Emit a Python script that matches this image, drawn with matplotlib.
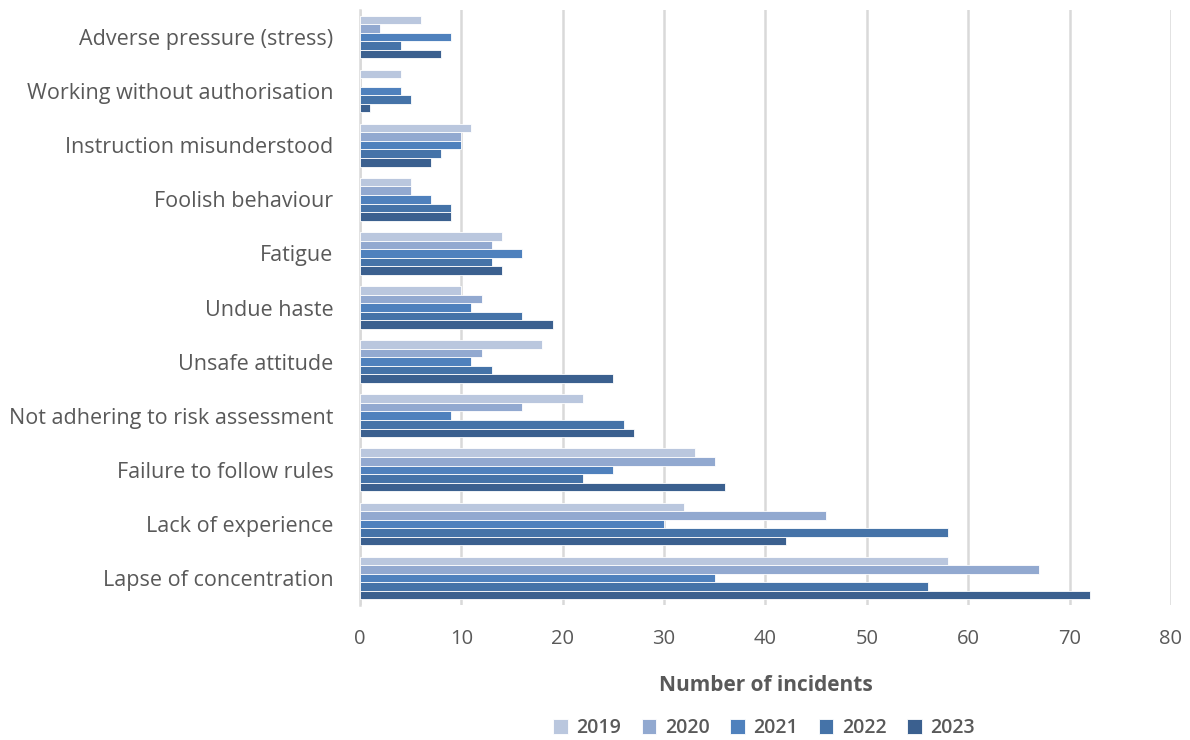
import numpy as np
import matplotlib.pyplot as plt

plt.rcParams['font.family'] = ['Open Sans', 'DejaVu Sans']

categories = ["Lapse of concentration", "Lack of experience", "Failure to follow rules",
              "Not adhering to risk assessment", "Unsafe attitude", "Undue haste",
              "Fatigue", "Foolish behaviour", "Instruction misunderstood",
              "Working without authorisation", "Adverse pressure (stress)"]
years = ["2019", "2020", "2021", "2022", "2023"]

v2019 = [58, 32, 33, 22, 18, 10, 14, 5, 11, 4, 6]
v2020 = [67, 46, 35, 16, 12, 12, 13, 5, 10, 0, 2]
v2021 = [35, 30, 25, 9, 11, 11, 16, 7, 10, 4, 9]
v2022 = [56, 58, 22, 26, 13, 16, 13, 9, 8, 5, 4]
v2023 = [72, 42, 36, 27, 25, 19, 14, 9, 7, 1, 8]
series = [v2019, v2020, v2021, v2022, v2023]
colors = ["#BAC7DE", "#92A9D0", "#4F81BD", "#4573A8", "#3B608F"]

text_col = "#595959"

fig = plt.figure(figsize=(11.9, 7.4), dpi=100)
ax = fig.add_axes([0.3025, 0.1824, 0.6815, 0.8041])

y = np.arange(len(categories))
h = 0.158
for i, (vals, c) in enumerate(zip(series, colors)):
    # 2019 on top of each group, 2023 at the bottom
    offset = (2 - i) * h
    ax.barh(y + offset, vals, height=h, color=c, edgecolor="white",
            linewidth=0.6, label=years[i], zorder=3)

ax.set_xlim(0, 80)
ax.set_xticks(range(0, 81, 10))
ax.set_ylim(-0.5, len(categories) - 0.5)
ax.set_yticks(y)
ax.set_yticklabels(categories)
ax.tick_params(axis='y', length=0, pad=19, labelsize=15.5, labelcolor=text_col)
ax.tick_params(axis='x', length=0, pad=17, labelsize=14.5, labelcolor=text_col)

ax.grid(axis='x', color="#D9D9D9", linewidth=1.8, zorder=0)
for s in ["top", "right", "bottom"]:
    ax.spines[s].set_visible(False)
ax.spines["left"].set_color("#D9D9D9")
ax.spines["left"].set_linewidth(1.8)

ax.set_xlabel("Number of incidents", fontsize=15, fontweight="bold",
              color=text_col, labelpad=19)

fig.legend(loc="center", bbox_to_anchor=(0.642, 0.016), ncol=5,
           frameon=False, handlelength=0.75, handleheight=0.75,
           handletextpad=0.45, columnspacing=1.05, borderpad=0.2,
           prop={"weight": "semibold", "size": 14}, labelcolor=text_col)

fig.savefig("out.png", dpi=100)
